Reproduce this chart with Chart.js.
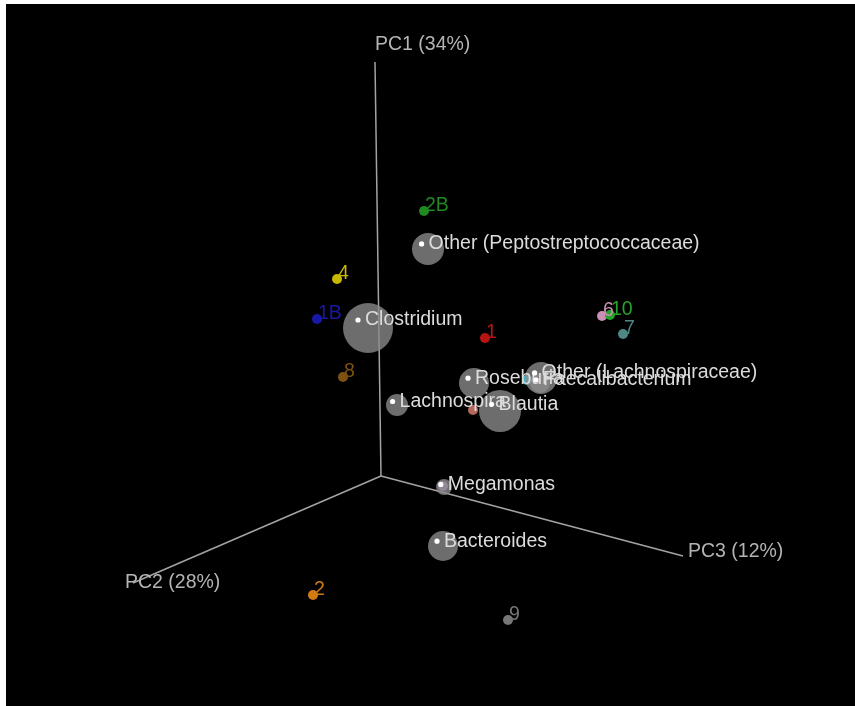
<!DOCTYPE html>
<html>
<head>
<meta charset="utf-8">
<script src="https://cdn.jsdelivr.net/npm/chart.js@4"></script>
<style>
  html, body { margin: 0; padding: 0; background: #ffffff; }
  #wrap { width: 855px; height: 706px; }
</style>
</head>
<body>
<div id="wrap"><canvas id="c" width="855" height="706"></canvas></div>
<script>
// ---- Data (projected PCoA biplot coordinates, origin at axes origin) ----
const axisNames = ['PC1 (34%)', 'PC2 (28%)', 'PC3 (12%)'];
const axisEndX = [-6, -248, 302];
const axisEndY = [414, -107, -80];

const sampleIds = ['2B', '4', '1B', '1', '6', '10', '7', '8', '', '', '', '2', '9'];
const sampleX = [43, -44, -64, 104, 221, 229, 242, -38, 92, 146, 62, -68, 127];
const sampleY = [265, 197, 157, 138, 160, 161, 142, 99, 66, 96, -10, -119, -144];
const sampleColors = ['#1f8a1f', '#c9b800', '#1818a8', '#b81414', '#c98fb4', '#27a327', '#4f8785',
                      '#7d5212', '#b5675a', '#46b8c8', '#a77cbc', '#d27b12', '#777777'];

const taxaNames = ['Other (Peptostreptococcaceae)', 'Clostridium', 'Roseburia', 'Lachnospira', 'Blautia',
                   'Megamonas', 'Bacteroides', 'Faecalibacterium', 'Other (Lachnospiraceae)'];
const taxaX = [47, -13, 93, 16, 119, 63, 62, 159, 160];
const taxaY = [227, 148, 93, 71, 65, -11, -70, 93, 98];
const taxaAbundance = [0.16, 0.25, 0.15, 0.11, 0.21, 0.08, 0.15, 0.10, 0.16];

// ---- Build datasets ----
const FONT = '19.5px "Liberation Sans", Arial, sans-serif';
const axisDatasets = axisNames.map((n, i) => ({
  label: n,
  data: [{x: 0, y: 0}, {x: axisEndX[i], y: axisEndY[i]}],
  showLine: true,
  borderColor: '#a3a3a3',
  borderWidth: 1.5,
  pointRadius: 0,
  order: 10,
  kind: 'axis'
}));

const sampleDataset = {
  label: 'samples',
  data: sampleX.map((x, i) => ({x: x, y: sampleY[i]})),
  backgroundColor: sampleColors,
  borderColor: sampleColors,
  borderWidth: 0,
  pointRadius: 5,
  order: 5,
  kind: 'samples'
};

const taxaDataset = {
  label: 'taxa',
  data: taxaX.map((x, i) => ({x: x, y: taxaY[i]})),
  backgroundColor: 'rgba(140,140,140,0.78)',
  borderWidth: 0,
  pointRadius: ctx => taxaAbundance[ctx.dataIndex] * 100,
  order: 1,
  kind: 'taxa'
};

const bgPlugin = {
  id: 'bg',
  beforeDraw(chart) {
    const c = chart.ctx;
    c.save();
    c.fillStyle = '#ffffff';
    c.fillRect(0, 0, chart.width, chart.height);
    c.fillStyle = '#000000';
    c.fillRect(6, 4, chart.width - 6, chart.height - 4);
    c.restore();
  }
};

const axisLabelOffsets = [[0, -17], [-8, 0], [5, -4]];

const labelPlugin = {
  id: 'labels',
  afterDatasetsDraw(chart) {
    const c = chart.ctx;
    c.save();
    c.font = FONT;
    c.textAlign = 'left';
    c.textBaseline = 'middle';
    chart.data.datasets.forEach((ds, di) => {
      const meta = chart.getDatasetMeta(di);
      if (ds.kind === 'axis') {
        const el = meta.data[1];
        const idx = axisNames.indexOf(ds.label);
        const off = axisLabelOffsets[idx];
        c.fillStyle = '#b4b4b4';
        c.fillText(ds.label, el.x + off[0], el.y + off[1]);
      } else if (ds.kind === 'samples') {
        meta.data.forEach((el, i) => {
          if (!sampleIds[i]) return;
          c.fillStyle = sampleColors[i];
          c.fillText(sampleIds[i], el.x + 1, el.y - 5);
        });
      } else if (ds.kind === 'taxa') {
        meta.data.forEach((el, i) => {
          const r = taxaAbundance[i] * 100;
          const dx = el.x - 0.4 * r, dy = el.y - 0.32 * r;
          c.fillStyle = '#ffffff';
          c.beginPath();
          c.arc(dx, dy, 2.6, 0, Math.PI * 2);
          c.fill();
          c.fillStyle = '#dcdcdc';
          c.fillText(taxaNames[i], dx + 7, dy);
        });
      }
    });
    c.restore();
  }
};

new Chart(document.getElementById('c'), {
  type: 'scatter',
  data: { datasets: [...axisDatasets, sampleDataset, taxaDataset] },
  options: {
    responsive: false,
    animation: false,
    devicePixelRatio: 1,
    layout: { padding: 0, autoPadding: false },
    plugins: { legend: { display: false }, tooltip: { enabled: false } },
    scales: {
      x: { type: 'linear', min: -381, max: 474, display: false },
      y: { type: 'linear', min: -230, max: 476, display: false }
    }
  },
  plugins: [bgPlugin, labelPlugin]
});
</script>
</body>
</html>
